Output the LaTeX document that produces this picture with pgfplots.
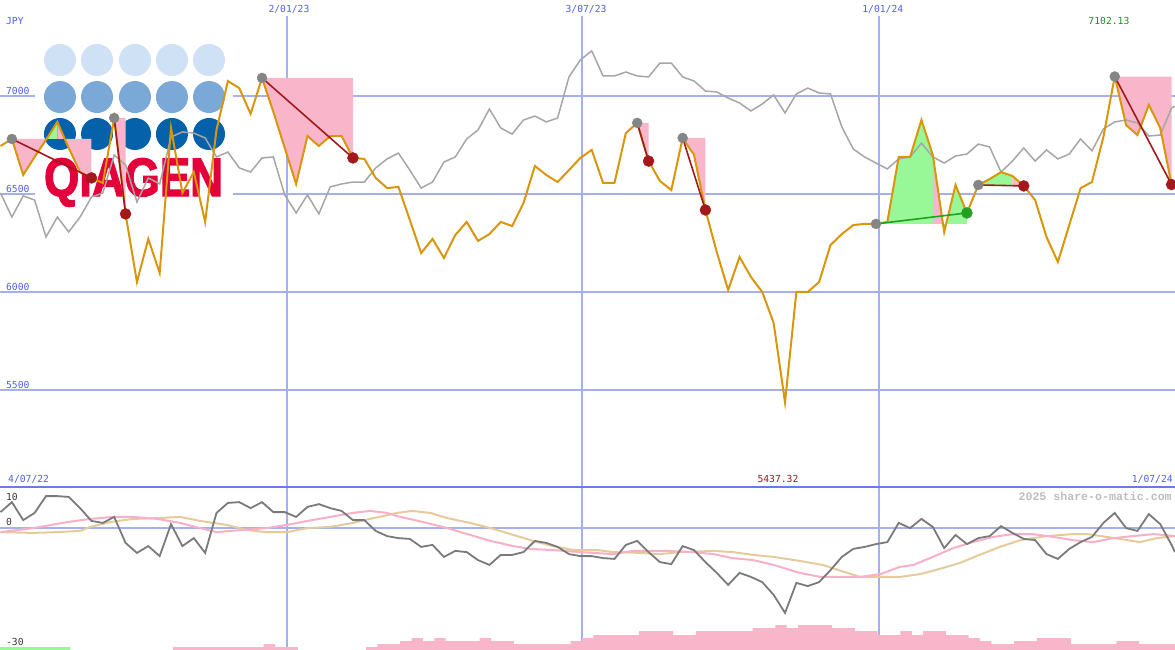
\documentclass[border=0pt]{standalone}
\usepackage{fontspec}
\usepackage{pgfplots}
\usepackage{pgfplotstable}
\pgfplotsset{compat=1.18}
\newfontfamily\monof{DejaVu Sans Mono}
\newfontfamily\wmf{Liberation Mono}
\newfontfamily\logof[BoldFeatures={FakeBold=2.5}]{Liberation Sans}
\definecolor{gridc}{HTML}{A4B0F0}
\definecolor{sepc}{HTML}{6B7BE6}
\definecolor{lblblue}{HTML}{4F5FE6}
\definecolor{orangec}{HTML}{D9960B}
\definecolor{greyc}{HTML}{A6A6A6}
\definecolor{pinkc}{HTML}{F9B6CB}
\definecolor{greenc}{HTML}{98F898}
\definecolor{darkred}{HTML}{A3191B}
\definecolor{dotgrey}{HTML}{858585}
\definecolor{greenl}{HTML}{22A022}
\definecolor{lgrey}{HTML}{7A7A7A}
\definecolor{lpink}{HTML}{F7B0C6}
\definecolor{ltan}{HTML}{E5CB9B}
\definecolor{minred}{HTML}{A01818}
\definecolor{maxgreen}{HTML}{1E8E1E}
\definecolor{lowlbl}{HTML}{3A3A3A}
\definecolor{wmc}{HTML}{BDBDBD}
\definecolor{logoA}{HTML}{CFE1F4}
\definecolor{logoB}{HTML}{7BA9D7}
\definecolor{logoC}{HTML}{0561A9}
\definecolor{logoR}{HTML}{E4003B}

\pgfplotstableread{
k P
0 6747
1 6783
2 6599
3 6691
4 6778
5 6870
6 6737
7 6614
8 6584
9 6558
10 6890
11 6400
12 6052
13 6272
14 6098
15 6839
16 6507
17 6614
18 6359
19 6830
20 7079
21 7043
22 6911
23 7095
24 6921
25 6737
26 6553
27 6798
28 6747
29 6798
30 6798
31 6686
32 6681
33 6584
34 6532
35 6538
36 6369
37 6200
38 6272
39 6175
40 6292
41 6359
42 6262
43 6297
44 6359
45 6338
46 6456
47 6645
48 6599
49 6563
50 6624
51 6686
52 6727
53 6558
54 6558
55 6813
56 6865
57 6670
58 6568
59 6522
60 6788
61 6701
62 6420
63 6205
64 6011
65 6180
66 6078
67 6001
68 5843
69 5437.32
70 6001
71 6001
72 6052
73 6241
74 6297
75 6343
76 6349
77 6349
78 6359
79 6691
80 6691
81 6880
82 6701
83 6308
84 6548
85 6405
86 6548
87 6578
88 6614
89 6594
90 6543
91 6471
92 6282
93 6154
94 6343
95 6532
96 6563
97 6793
98 7102.13
99 6854
100 6803
101 6957
102 6839
103 6550
}\orangedata

\pgfplotstableread{
k P
0 6507
1 6384
2 6492
3 6471
4 6282
5 6384
6 6308
7 6384
8 6486
9 6507
10 6701
11 6650
12 6461
13 6584
14 6553
15 6793
16 6819
17 6813
18 6788
19 6691
20 6716
21 6635
22 6614
23 6686
24 6691
25 6497
26 6405
27 6497
28 6400
29 6538
30 6553
31 6563
32 6563
33 6635
34 6681
35 6711
36 6624
37 6532
38 6563
39 6665
40 6691
41 6783
42 6829
43 6936
44 6839
45 6808
46 6880
47 6900
48 6870
49 6890
50 7100
51 7187
52 7233
53 7105
54 7105
55 7125
56 7105
57 7100
58 7171
59 7171
60 7100
61 7079
62 7028
63 7023
64 6992
65 6967
66 6926
67 6962
68 7008
69 6916
70 7013
71 7043
72 7018
73 7013
74 6844
75 6732
76 6691
77 6660
78 6630
79 6681
80 6691
81 6762
82 6691
83 6660
84 6696
85 6706
86 6757
87 6742
88 6614
89 6670
90 6737
91 6670
92 6727
93 6681
94 6706
95 6783
96 6722
97 6834
98 6870
99 6880
100 6865
101 6798
102 6803
103 6941
103.3 6951
}\greydata

\pgfplotstableread{
k v
0 3.9
1 6.4
2 1.9
3 3.7
4 7.9
5 7.9
6 7.7
7 4.9
8 1.7
9 1.2
10 2.7
11 -3.8
12 -6.3
13 -4.6
14 -7.1
15 0.9
16 -4.6
17 -2.6
18 -6.3
19 3.7
20 6.2
21 6.4
22 4.9
23 6.4
24 3.9
25 3.9
26 2.7
27 5.2
28 5.9
29 4.9
30 4.2
31 1.9
32 1.9
33 -0.8
34 -2.1
35 -2.6
36 -2.8
37 -4.8
38 -4.3
39 -7.3
40 -5.8
41 -6.1
42 -8.1
43 -9.3
44 -6.8
45 -6.8
46 -6.1
47 -3.3
48 -3.8
49 -4.8
50 -6.6
51 -7.1
52 -7.1
53 -7.6
54 -7.8
55 -4.3
56 -3.3
57 -6.1
58 -8.6
59 -9.1
60 -4.6
61 -5.6
62 -8.6
63 -11.3
64 -14.3
65 -11.3
66 -12.3
67 -13.6
68 -16.8
69 -21.3
70 -13.8
71 -14.6
72 -13.6
73 -10.6
74 -7.3
75 -5.3
76 -4.8
77 -4.1
78 -3.6
79 1.2
80 -0.1
81 2.2
82 0.2
83 -5.1
84 -1.8
85 -4.1
86 -2.6
87 -2.1
88 0.4
89 -1.3
90 -2.8
91 -3.1
92 -6.6
93 -7.8
94 -5.3
95 -3.6
96 -2.3
97 1.2
98 3.7
99 -0.1
100 -0.8
101 3.4
102 0.9
103 -4.3
103.3 -6.1
}\mom

\pgfplotstableread{
k v
0 -1.1
2.9 -0.1
5.85 1.4
7.9 2.2
9.9 2.7
11.65 2.7
13.8 2.2
15.8 1.2
17.55 -0.1
19.0 -1.1
21.1 -0.6
23.4 -0.1
25.2 0.7
27.0 1.7
29.0 2.7
31.0 3.7
32.5 4.2
34.0 3.7
34.9 2.9
37.2 1.4
39.3 -0.1
41.3 -1.8
43.1 -3.3
45.1 -4.6
46.6 -5.3
48.6 -5.6
51.0 -6.1
53.9 -6.6
55.6 -5.8
58.6 -5.8
60.9 -6.1
62.7 -6.6
64.4 -7.6
66.2 -8.1
68.0 -9.3
70.3 -11.3
72.1 -12.3
75.6 -12.3
77.4 -11.6
79.1 -9.8
80.3 -9.3
82.0 -7.3
83.8 -5.1
85.5 -3.6
87.3 -2.3
89.05 -1.6
90.8 -1.6
92.6 -2.3
94.3 -3.1
96.1 -3.6
97.9 -2.6
99.6 -2.1
101.4 -1.6
103.3 -2.1
}\pinkavg

\pgfplotstableread{
k v
0 -1.1
2.9 -1.3
5.0 -1.1
7.0 -0.8
7.9 0.2
9.6 1.4
11.65 2.2
13.8 2.4
15.8 2.7
17.55 1.7
19.9 0.7
21.7 -0.6
23.4 -1.1
25.2 -1.1
27.0 -0.1
29.0 0.2
31.0 1.2
32.8 2.4
34.9 3.7
36.2 4.2
37.8 3.7
39.3 2.4
41.3 1.2
43.1 -0.1
45.1 -1.8
47.2 -3.6
48.6 -4.6
50.4 -5.6
52.5 -5.6
53.9 -6.1
56.2 -6.3
58.0 -6.6
59.8 -6.1
62.7 -5.8
64.4 -6.1
66.2 -6.8
68.0 -7.3
70.3 -8.3
72.3 -9.3
74.5 -11.3
75.6 -12.3
79.1 -12.3
80.9 -11.6
82.6 -10.3
84.4 -8.8
86.1 -6.8
87.9 -4.8
89.7 -3.1
92.0 -2.1
94.3 -1.6
95.6 -1.6
97.3 -2.3
99.1 -3.1
100.2 -3.6
101.7 -2.6
103.3 -2.1
}\tanavg

\pgfplotstableread{
k h
15.15 3
23.15 6
24.15 3
26.15 0
32.15 3
33.15 6
35.15 9
36.15 12
37.15 9
38.15 12
39.15 9
42.15 12
43.15 9
45.15 6
50.15 9
51.15 12
52.15 15
56.15 19
59.15 15
61.15 19
66.15 22
68.15 25
69.15 22
70.15 25
73.15 22
75.15 19
77.15 15
79.15 19
80.15 15
81.15 19
83.15 15
85.15 12
86.15 9
87.15 6
89.15 9
91.15 12
94.15 6
98.15 9
100.15 6
103.30 6
}\vol

\pgfplotsset{base/.style={scale only axis, width=1175pt, hide axis, clip=false,
  enlargelimits=false, xmin=-0.044, xmax=103.30}}
\tikzset{lbl/.style={font=\monof\fontsize{9.7}{11}\selectfont, inner sep=0pt}}

\begin{document}
\begin{tikzpicture}
% ---------- main panel ----------
\begin{axis}[base, at={(0pt,0pt)}, anchor=north west, height=487pt, ymin=5004.5, ymax=7493.1]
\addplot[gridc, line width=2pt] coordinates {(-0.044,7000)(103.30,7000)};
\addplot[gridc, line width=2pt] coordinates {(-0.044,6500)(103.30,6500)};
\addplot[gridc, line width=2pt] coordinates {(-0.044,6000)(103.30,6000)};
\addplot[gridc, line width=2pt] coordinates {(-0.044,5500)(103.30,5500)};
\addplot[gridc, line width=1.2pt] coordinates {(25.2,5004.5)(25.2,7411)};
\addplot[gridc, line width=1.2pt] coordinates {(51.14,5004.5)(51.14,7411)};
\addplot[gridc, line width=1.2pt] coordinates {(77.26,5004.5)(77.26,7411)};
% logo
\fill[white] (axis cs:3.03,7288.7) rectangle (axis cs:20.45,6471.1);
\pgfplotsinvokeforeach{5.23,8.49,11.83,15.08,18.34}{
  \fill[logoA] (axis cs:#1,7186.5) circle[radius=16pt];
  \fill[logoB] (axis cs:#1,6997.4) circle[radius=16pt];
  \fill[logoC] (axis cs:#1,6808.4) circle[radius=16pt];
}
\node[anchor=base, text=logoR, inner sep=0pt, font=\logof\bfseries\fontsize{54}{54}\selectfont]
  at (axis cs:11.70,6491.5) {\scalebox{0.84}[1]{QIAGEN}};
% trade fills
\addplot[fill=pinkc, draw=none] coordinates {(1,6783)(2,6599)(3,6691)(4,6778)(4,6783)};
\addplot[fill=greenc, draw=none] coordinates {(4,6783)(4,6778)(5,6870)(5,6783)};
\addplot[fill=pinkc, draw=none] coordinates {(5,6783)(5,6870)(6,6737)(7,6614)(8,6584)(8,6783)};
\addplot[fill=pinkc, draw=none] coordinates {(10,6890)(11,6400)(11,6890)};
\addplot[fill=pinkc, draw=none] coordinates {(23,7095)(24,6921)(25,6737)(26,6553)(27,6798)(28,6747)(29,6798)(30,6798)(31,6686)(31,7095)};
\addplot[fill=pinkc, draw=none] coordinates {(56,6865)(57,6670)(57,6865)};
\addplot[fill=pinkc, draw=none] coordinates {(60,6788)(61,6701)(62,6420)(62,6788)};
\addplot[fill=greenc, draw=none] coordinates {(77,6349)(78,6359)(79,6691)(80,6691)(81,6880)(82,6701)(82,6349)};
\addplot[fill=pinkc, draw=none] coordinates {(82,6349)(82,6701)(83,6308)(83,6349)};
\addplot[fill=greenc, draw=none] coordinates {(83,6349)(83,6308)(84,6548)(85,6405)(85,6349)};
\addplot[fill=greenc, draw=none] coordinates {(86,6548)(87,6578)(88,6614)(89,6594)(89,6548)};
\addplot[fill=pinkc, draw=none] coordinates {(89,6548)(89,6594)(90,6543)(90,6548)};
\addplot[fill=pinkc, draw=none] coordinates {(98,7102.13)(99,6854)(100,6803)(101,6957)(102,6839)(103,6550)(103,7102.13)};
% series
\addplot[greyc, line width=1.5pt] table[x=k, y=P] {\greydata};
\addplot[orangec, line width=2pt] table[x=k, y=P] {\orangedata};
% trade lines
\addplot[darkred, line width=1.6pt] coordinates {(1,6783)(8,6584)};
\addplot[darkred, line width=1.6pt] coordinates {(10,6890)(11,6400)};
\addplot[darkred, line width=1.6pt] coordinates {(23,7095)(31,6686)};
\addplot[darkred, line width=1.6pt] coordinates {(56,6865)(57,6670)};
\addplot[darkred, line width=1.6pt] coordinates {(60,6788)(62,6420)};
\addplot[greenl, line width=1.6pt] coordinates {(77,6349)(85,6405)};
\addplot[darkred, line width=1.6pt] coordinates {(86,6548)(90,6543)};
\addplot[darkred, line width=1.6pt] coordinates {(98,7102.13)(103,6550)};
% dots
\addplot[only marks, mark=*, mark size=5pt, dotgrey, mark options={draw=none, fill=dotgrey}]
  coordinates {(1,6783)(10,6890)(23,7095)(56,6865)(60,6788)(77,6349)(86,6548)(98,7102.13)};
\addplot[only marks, mark=*, mark size=5.5pt, darkred, mark options={draw=none, fill=darkred}]
  coordinates {(8,6584)(11,6400)(31,6686)(57,6670)(62,6420)(90,6543)(103,6550)};
\addplot[only marks, mark=*, mark size=5.5pt, greenl, mark options={draw=none, fill=greenl}]
  coordinates {(85,6405)};
% labels
\node[lbl, text=lblblue, anchor=west] at (axis cs:0.48,7385.8) {JPY};
\node[lbl, text=lblblue, anchor=south west, yshift=1.2pt] at (axis cs:0.48,7000) {7000};
\node[lbl, text=lblblue, anchor=south west, yshift=1.2pt] at (axis cs:0.48,6500) {6500};
\node[lbl, text=lblblue, anchor=south west, yshift=1.2pt] at (axis cs:0.48,6000) {6000};
\node[lbl, text=lblblue, anchor=south west, yshift=1.2pt] at (axis cs:0.48,5500) {5500};
\node[lbl, text=lblblue] at (axis cs:25.37,7447) {2/01/23};
\node[lbl, text=lblblue] at (axis cs:51.5,7447) {3/07/23};
\node[lbl, text=lblblue] at (axis cs:77.6,7447) {1/01/24};
\node[lbl, text=maxgreen] at (axis cs:97.49,7385.8) {7102.13};
\node[lbl, text=lblblue, anchor=west] at (axis cs:0.66,5045.4) {4/07/22};
\node[lbl, text=minred] at (axis cs:68.38,5045.4) {5437.32};
\node[lbl, text=lblblue, anchor=east] at (axis cs:103.12,5045.4) {1/07/24};
\end{axis}

% ---------- volume ----------
\begin{axis}[base, at={(0pt,-487pt)}, anchor=north west, height=163pt, ymin=0, ymax=163]
\addplot[gridc, line width=1.2pt] coordinates {(25.2,0)(25.2,163)};
\addplot[gridc, line width=1.2pt] coordinates {(51.14,0)(51.14,163)};
\addplot[gridc, line width=1.2pt] coordinates {(77.26,0)(77.26,163)};
\addplot[const plot, fill=greenc, draw=none] coordinates {(-0.044,3)(6.15,3)} \closedcycle;
\addplot[const plot, fill=pinkc, draw=none] table[x=k, y=h] {\vol} \closedcycle;
\end{axis}

% ---------- indicator ----------
\begin{axis}[base, at={(0pt,-487pt)}, anchor=north west, height=163pt, ymin=-30.58, ymax=10.18]
\addplot[gridc, line width=1.8pt] coordinates {(-0.044,0)(103.30,0)};
\addplot[sepc, line width=1.8pt] coordinates {(-0.044,10.18)(103.30,10.18)};
\addplot[ltan, line width=2pt] table[x=k, y=v] {\tanavg};
\addplot[lpink, line width=2pt] table[x=k, y=v] {\pinkavg};
\addplot[lgrey, line width=1.8pt] table[x=k, y=v] {\mom};
\node[lbl, text=lowlbl, anchor=west] at (axis cs:0.48,7.8) {10};
\node[lbl, text=lowlbl, anchor=west] at (axis cs:0.48,1.55) {0};
\node[lbl, text=lowlbl, anchor=west] at (axis cs:0.48,-28.58) {-30};
\node[inner sep=0pt, text=wmc, anchor=east, font=\wmf\bfseries\fontsize{11.6}{13}\selectfont]
  at (axis cs:103.03,7.93) {2025 share-o-matic.com};
\end{axis}
\pgfresetboundingbox
\path[use as bounding box] (0pt,0pt) rectangle (1175pt,-650pt);
\end{tikzpicture}
\end{document}
